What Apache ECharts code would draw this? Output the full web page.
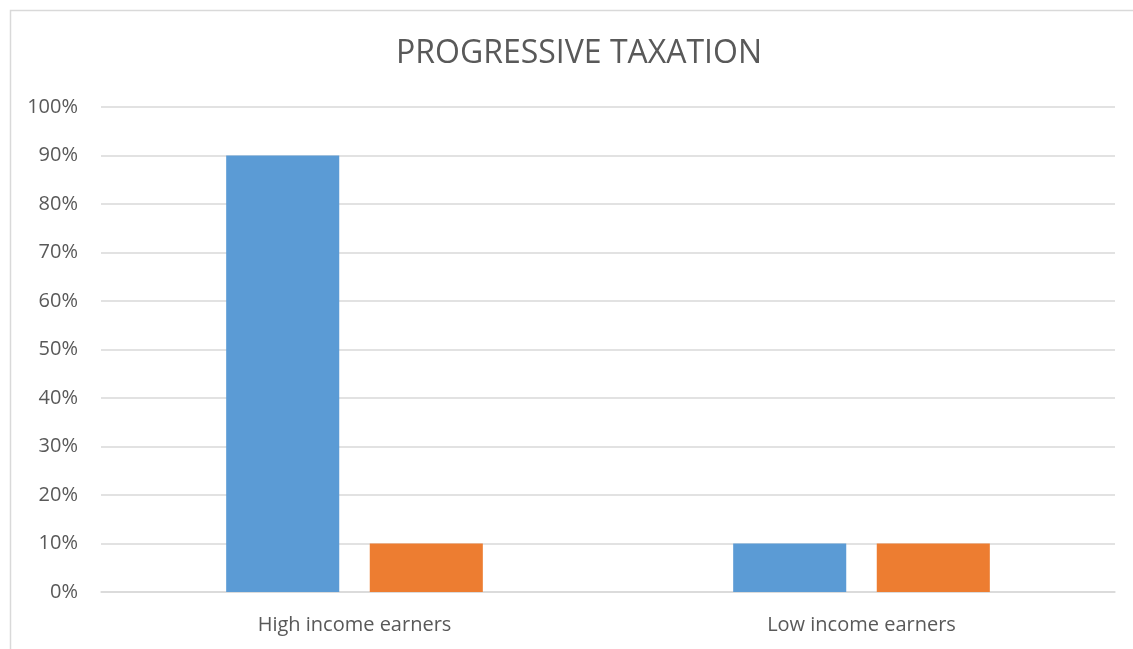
<!DOCTYPE html>
<html>
<head>
<meta charset="utf-8">
<script src="https://cdn.jsdelivr.net/npm/echarts@6/dist/echarts.min.js"></script>
<style>
html,body{margin:0;padding:0;background:#fff;}
#c{width:1133px;height:649px;}
</style>
</head>
<body>
<div id="c"></div>
<script>
var titleText = "PROGRESSIVE TAXATION";
var categories = ["High income earners", "Low income earners"];
var seriesA = [90, 10];
var seriesB = [10, 10];
var seriesNames = ["Series 1", "Series 2"];

var chart = echarts.init(document.getElementById('c'));
chart.setOption({
  animation: false,
  backgroundColor: '#fff',
  graphic: [{
    type: 'rect',
    left: 8, top: 8,
    shape: {x: 0, y: 0, width: 1140, height: 660},
    style: {fill: 'none', stroke: '#d9d9d9', lineWidth: 1.5},
    silent: true
  }],
  title: {
    text: titleText,
    left: 391,
    top: 33,
    textStyle: {fontFamily: 'Open Sans', fontSize: 32, fontWeight: 'normal', color: '#595959'}
  },
  legend: {show: false},
  grid: {left: 101, right: 18, top: 107, bottom: 57, containLabel: false},
  xAxis: {
    type: 'category',
    data: categories,
    axisLine: {lineStyle: {color: '#d9d9d9', width: 1.5}},
    axisTick: {show: false},
    axisLabel: {color: '#595959', fontFamily: 'Open Sans', fontSize: 20, margin: 23}
  },
  yAxis: {
    type: 'value',
    min: 0, max: 100, interval: 10,
    axisLine: {show: false},
    axisTick: {show: false},
    axisLabel: {color: '#595959', fontFamily: 'Open Sans', fontSize: 20, margin: 23, formatter: '{value}%'},
    splitLine: {lineStyle: {color: '#d9d9d9', width: 1.5}}
  },
  series: [
    {name: seriesNames[0], type: 'bar', data: seriesA, barWidth: '22.3%', barGap: '27%', itemStyle: {color: '#5b9bd5'}},
    {name: seriesNames[1], type: 'bar', data: seriesB, barWidth: '22.3%', barGap: '27%', itemStyle: {color: '#ed7d31'}}
  ]
});
</script>
</body>
</html>
